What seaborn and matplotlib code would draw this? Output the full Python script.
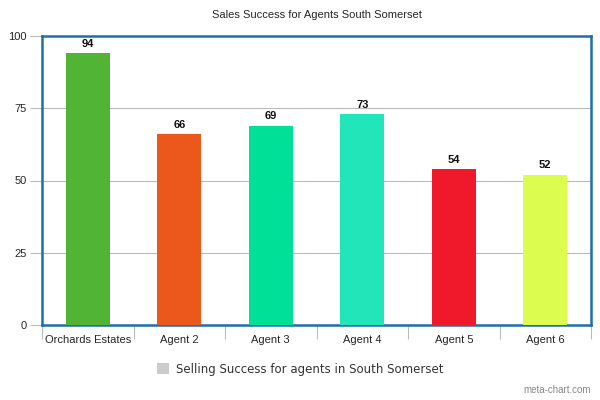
import matplotlib
matplotlib.use('Agg')
import matplotlib.pyplot as plt
import seaborn as sns
import pandas as pd
import numpy as np
from matplotlib.patches import Patch

agents = ['Orchards Estates', 'Agent 2', 'Agent 3', 'Agent 4', 'Agent 5', 'Agent 6']
success = [94, 66, 69, 73, 54, 52]
colors = ['#52b434', '#ec581c', '#00e096', '#22e6b9', '#f0192c', '#dcfc50']

df = pd.DataFrame({'agent': agents, 'success': success})

sns.set_style('white')
plt.rcParams['font.family'] = ['Liberation Sans', 'DejaVu Sans']

fig = plt.figure(figsize=(6, 4), dpi=100)
ax = fig.add_axes([0.07, 0.1875, 0.915, 0.7225])

sns.barplot(data=df, x='agent', y='success', hue='agent', palette=colors,
            legend=False, width=0.48, saturation=1, linewidth=0, ax=ax, zorder=3)

# value labels
for i, v in enumerate(success):
    ax.text(i, v + 1.5, str(v), ha='center', va='bottom', fontsize=8, fontweight='bold', color='#111111')

ax.set_ylim(0, 100)
ax.set_xlim(-0.5, len(agents) - 0.5)
ax.set_yticks([0, 25, 50, 75, 100])
ax.yaxis.grid(True, color='#bbbbbb', linewidth=0.8, zorder=0)
ax.set_axisbelow(True)

ax.tick_params(axis='y', which='major', length=9, width=0.8, color='#bbbbbb',
               labelsize=8, pad=2, left=True)
ax.tick_params(axis='x', which='major', length=0, labelsize=8, pad=7)
ax.set_xticks(np.arange(-0.5, len(agents)), minor=True)
ax.tick_params(axis='x', which='minor', length=10, width=0.8, color='#bbbbbb', bottom=True)

for s in ax.spines.values():
    s.set_color('#1f6fad')
    s.set_linewidth(1.8)

ax.set_xlabel('')
ax.set_ylabel('')
ax.set_title('Sales Success for Agents South Somerset', fontsize=8, pad=13)

handle = [Patch(facecolor='#cccccc', edgecolor='none')]
fig.legend(handle, ['Selling Success for agents in South Somerset'],
           loc='center', bbox_to_anchor=(0.5, 0.077), frameon=False,
           handlelength=1.0, handleheight=1.0, handletextpad=0.6,
           prop={'family': 'DejaVu Sans', 'size': 8.5}, labelcolor='#333333')

fig.text(0.985, 0.012, 'meta-chart.com', ha='right', va='bottom', fontsize=7, color='#888888')

plt.savefig('out.png', dpi=100)
